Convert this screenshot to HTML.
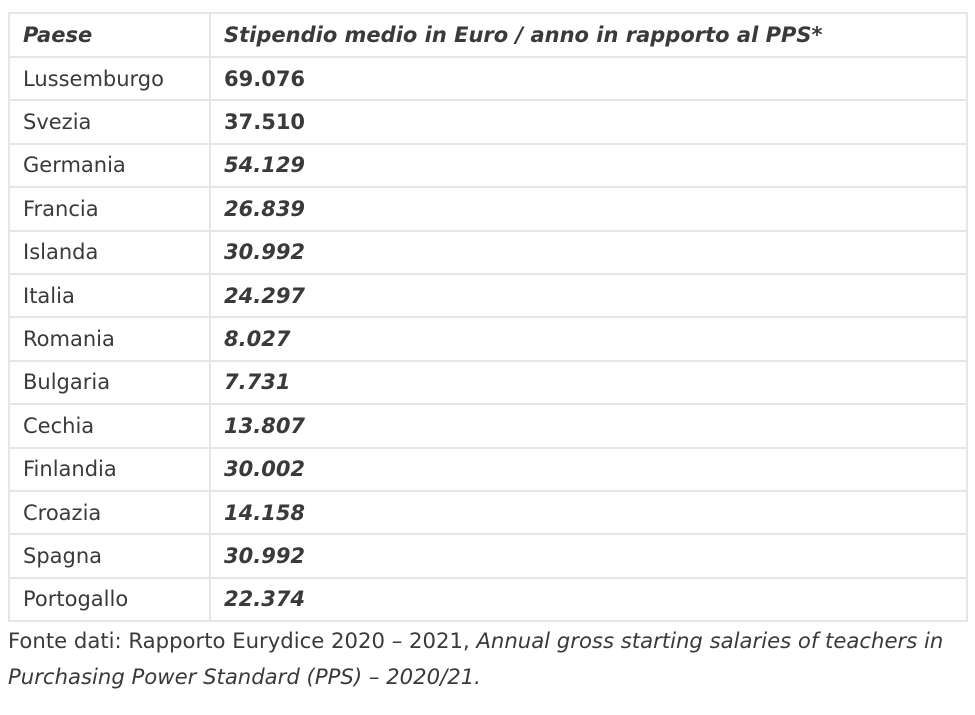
<!DOCTYPE html>
<html><head><meta charset="utf-8"><style>
html,body{margin:0;padding:0;background:#fff;width:975px;height:715px;overflow:hidden}
body{font-family:"DejaVu Sans","Liberation Sans",sans-serif;color:#3a3a3a;font-size:21px}
table{position:absolute;left:8px;top:12px;width:960px;border-collapse:collapse;table-layout:fixed}
td,th{border:2px solid #e6e6e6;padding:0 0 0 13px;height:41.4px;text-align:left;vertical-align:middle;white-space:nowrap}
th{font-weight:bold;font-style:italic;height:42px}
td.v{font-weight:bold}
td.i{font-style:italic}
.foot{position:absolute;left:8px;top:623px;width:965px;line-height:36px;font-size:21.2px}
</style></head><body>
<table>
<colgroup><col style="width:201px"><col></colgroup>
<tr><th>Paese</th><th>Stipendio medio in Euro / anno in rapporto al PPS*</th></tr>
<tr><td>Lussemburgo</td><td class="v">69.076</td></tr>
<tr><td>Svezia</td><td class="v">37.510</td></tr>
<tr><td>Germania</td><td class="v i">54.129</td></tr>
<tr><td>Francia</td><td class="v i">26.839</td></tr>
<tr><td>Islanda</td><td class="v i">30.992</td></tr>
<tr><td>Italia</td><td class="v i">24.297</td></tr>
<tr><td>Romania</td><td class="v i">8.027</td></tr>
<tr><td>Bulgaria</td><td class="v i">7.731</td></tr>
<tr><td>Cechia</td><td class="v i">13.807</td></tr>
<tr><td>Finlandia</td><td class="v i">30.002</td></tr>
<tr><td>Croazia</td><td class="v i">14.158</td></tr>
<tr><td>Spagna</td><td class="v i">30.992</td></tr>
<tr><td>Portogallo</td><td class="v i">22.374</td></tr>
</table>
<div class="foot">Fonte dati: Rapporto Eurydice 2020 – 2021, <i>Annual gross starting salaries of teachers in Purchasing Power Standard (PPS) – 2020/21.</i></div>
</body></html>
